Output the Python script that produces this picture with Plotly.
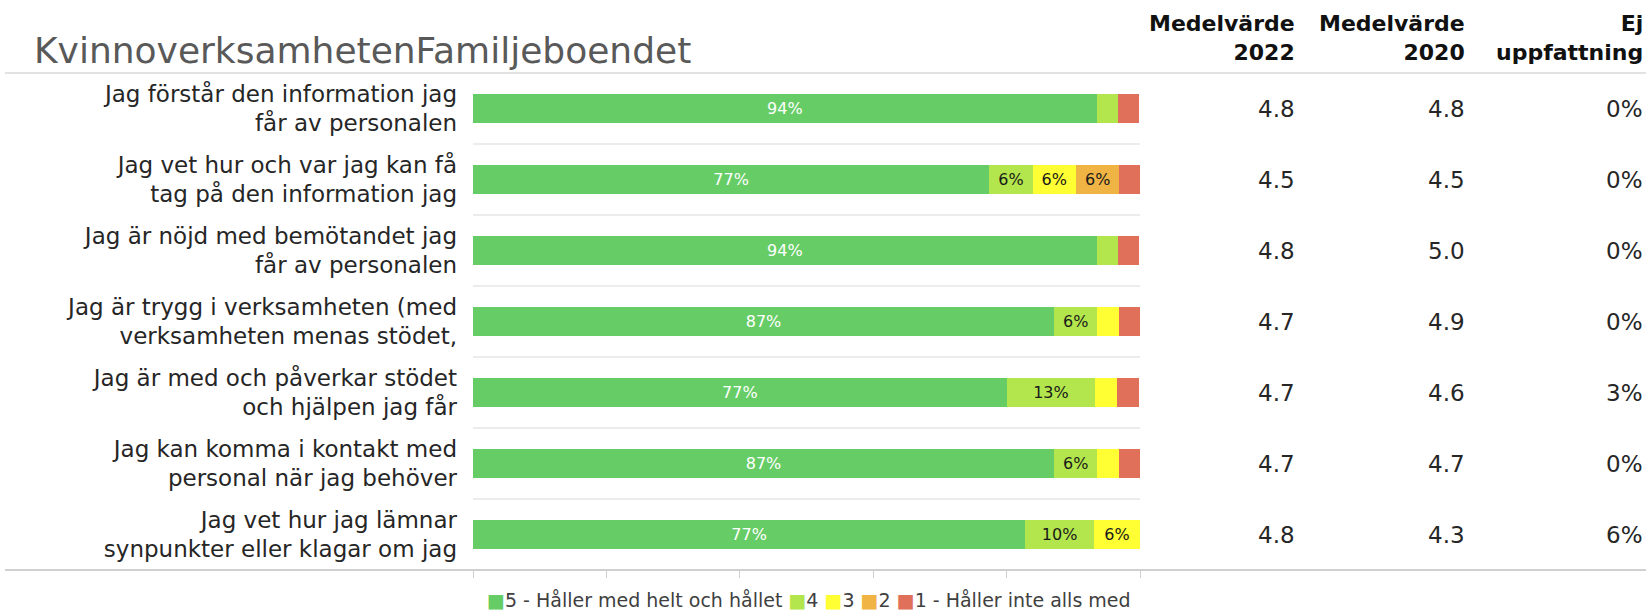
import plotly.graph_objects as go

title_text = "KvinnoverksamhetenFamiljeboendet"
categories = [
    "Jag förstår den information jag<br>får av personalen",
    "Jag vet hur och var jag kan få<br>tag på den information jag",
    "Jag är nöjd med bemötandet jag<br>får av personalen",
    "Jag är trygg i verksamheten (med<br>verksamheten menas stödet,",
    "Jag är med och påverkar stödet<br>och hjälpen jag får",
    "Jag kan komma i kontakt med<br>personal när jag behöver",
    "Jag vet hur jag lämnar<br>synpunkter eller klagar om jag",
]
series_names = ["5 - Håller med helt och hållet", "4", "3", "2", "1 - Håller inte alls med"]
series_colors = ["#66CD66", "#B3E64C", "#FFFF33", "#F0B445", "#E0705A"]
text_colors = ["white", "#1a1a1a", "#1a1a1a", "#1a1a1a", "#1a1a1a"]

s5 = [93.5, 77.4, 93.5, 87.1, 80.0, 87.1, 82.8]
s4 = [3.2, 6.5, 3.2, 6.5, 13.3, 6.5, 10.3]
s3 = [0, 6.5, 0, 3.2, 3.3, 3.2, 6.9]
s2 = [0, 6.5, 0, 0, 0, 0, 0]
s1 = [3.2, 3.2, 3.2, 3.2, 3.3, 3.2, 0]
series_values = [s5, s4, s3, s2, s1]

l5 = ["94%", "77%", "94%", "87%", "77%", "87%", "77%"]
l4 = ["", "6%", "", "6%", "13%", "6%", "10%"]
l3 = ["", "6%", "", "", "", "", "6%"]
l2 = ["", "6%", "", "", "", "", ""]
l1 = ["", "", "", "", "", "", ""]
series_labels = [l5, l4, l3, l2, l1]

mean_2022 = ["4.8", "4.5", "4.8", "4.7", "4.7", "4.7", "4.8"]
mean_2020 = ["4.8", "4.5", "5.0", "4.9", "4.6", "4.7", "4.3"]
no_opinion = ["0%", "0%", "0%", "0%", "3%", "0%", "6%"]
column_headers = ["Medelvärde<br>2022", "Medelvärde<br>2020", "Ej<br>uppfattning"]
x_ticks = [0, 20, 40, 60, 80, 100]

W, H = 1646, 615
T, B = 73, 45
PH = H - T - B
FONT = "DejaVu Sans"

def py(p):
    return (H - B - p) / PH

fig = go.Figure()
for name, vals, labs, col, tcol in zip(series_names, series_values, series_labels, series_colors, text_colors):
    fig.add_trace(go.Bar(
        y=categories, x=vals, name=name, orientation="h",
        marker=dict(color=col, line=dict(width=0)),
        text=labs, textposition="inside", insidetextanchor="middle",
        textangle=0, constraintext="none",
        textfont=dict(family=FONT, size=16, color=tcol),
        hoverinfo="x+name", showlegend=False,
    ))

x0d, x1d = 473 / W, 1140 / W

shapes = []
for i in range(len(categories) - 1):
    shapes.append(dict(type="line", xref="x", yref="y", x0=0, x1=100,
                       y0=i + 0.5, y1=i + 0.5, line=dict(color="#d9d9d9", width=1)))
shapes.append(dict(type="line", xref="paper", yref="paper", x0=5 / W, x1=1,
                   y0=1, y1=1, line=dict(color="#d9d9d9", width=1.5)))
shapes.append(dict(type="line", xref="paper", yref="paper", x0=5 / W, x1=1,
                   y0=0, y1=0, line=dict(color="#d0d0d0", width=2)))

ann = []
ann.append(dict(text=title_text, xref="paper", yref="paper", x=32 / W, y=py(50),
                xanchor="left", yanchor="middle", showarrow=False,
                font=dict(family=FONT, size=36, color="#595959")))
col_x = [1297 / W, 1467 / W, 1645 / W]
for hx, htxt in zip(col_x, column_headers):
    ann.append(dict(text="<b>" + htxt + "</b>", xref="paper", yref="paper", x=hx, y=py(38),
                    xanchor="right", yanchor="middle", align="right", showarrow=False,
                    font=dict(family=FONT, size=22, color="#111111")))
for hx, col in zip(col_x, [mean_2022, mean_2020, no_opinion]):
    for cat, v in zip(categories, col):
        ann.append(dict(text=v, xref="paper", yref="y", x=hx, y=cat,
                        xanchor="right", yanchor="middle", showarrow=False,
                        font=dict(family=FONT, size=23, color="#262626")))
legend_html = " ".join(
    f'<span style="color:{c}">■</span>{n}' for n, c in zip(series_names, series_colors)
)
ann.append(dict(text=legend_html, xref="paper", yref="paper", x=809 / W, y=py(600),
                xanchor="center", yanchor="middle", showarrow=False,
                font=dict(family=FONT, size=19, color="#404040")))

fig.update_layout(
    width=W, height=H, barmode="stack", bargap=0.59,
    margin=dict(l=0, r=0, t=T, b=B),
    paper_bgcolor="white", plot_bgcolor="white",
    xaxis=dict(domain=[x0d, x1d], range=[0, 100], tickvals=x_ticks,
               showticklabels=False, ticks="outside", ticklen=7,
               tickcolor="#d0d0d0", showgrid=False, zeroline=False, showline=False,
               fixedrange=True),
    yaxis=dict(autorange="reversed", showgrid=False, zeroline=False, showline=False,
               ticks="", ticklabelstandoff=15,
               tickfont=dict(family=FONT, size=23, color="#262626"), fixedrange=True),
    shapes=shapes, annotations=ann,
    font=dict(family=FONT),
)

fig.write_html("out.html")
